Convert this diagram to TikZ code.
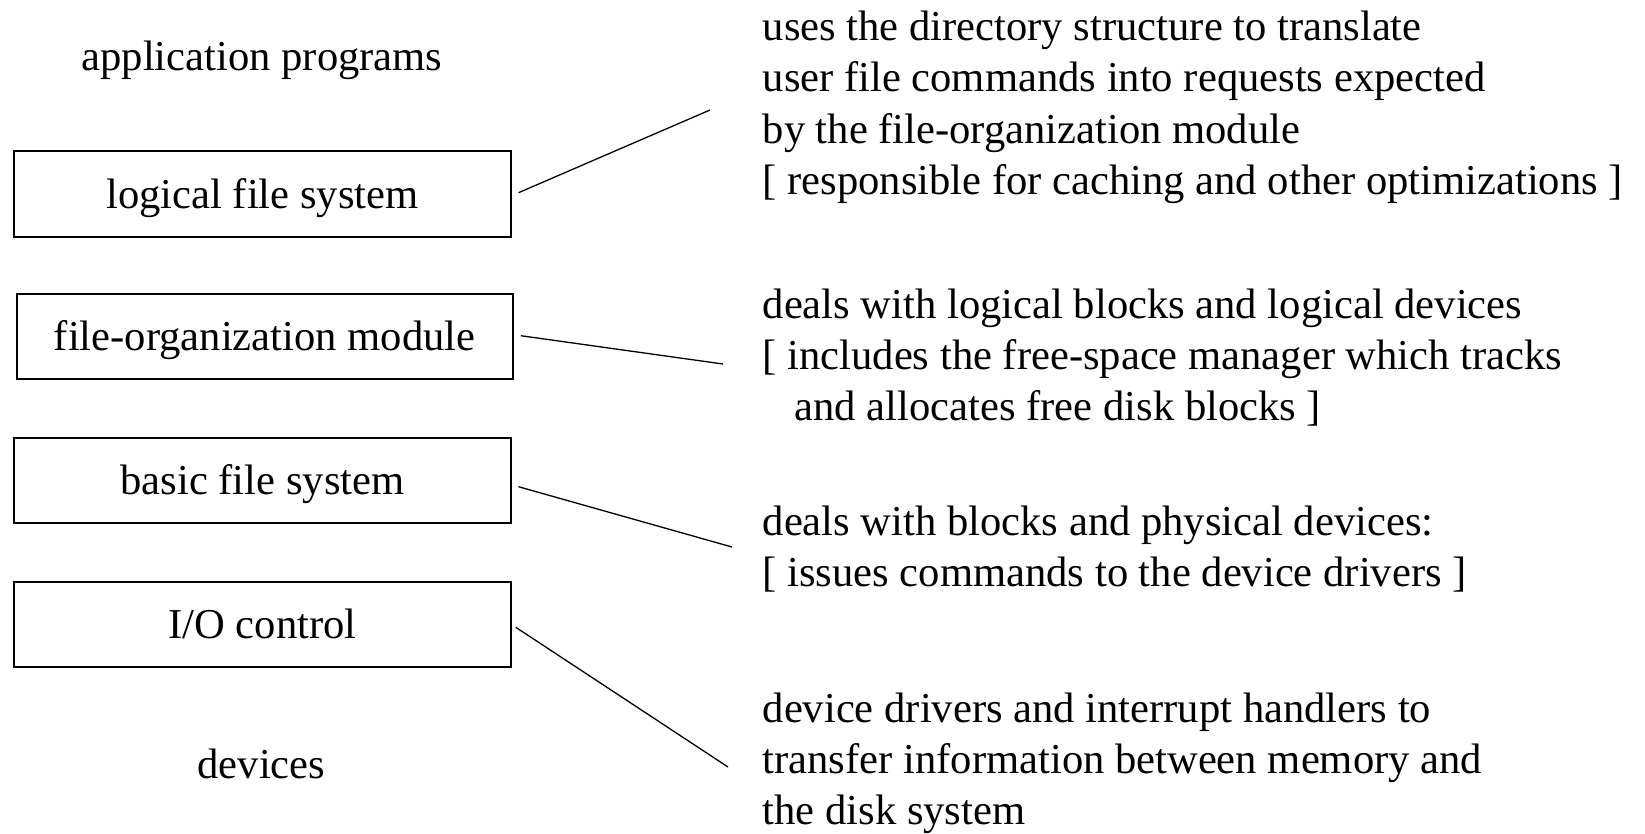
\documentclass[tikz,border=0pt]{standalone}
\usepackage{fontspec}
\setmainfont{Liberation Serif}
\newcommand{\layerfont}{\fontsize{42.6}{51.3}\selectfont}
\tikzset{
  layer/.style={draw, line width=1.6pt, minimum width=497pt, minimum height=86pt,
    inner sep=0pt, text height=28pt, text depth=0pt, font=\layerfont},
  plainlabel/.style={inner sep=0pt, text height=28pt, text depth=0pt, font=\layerfont},
  desc/.style={anchor=north west, align=left, inner sep=0pt, font=\layerfont},
  link/.style={line width=1.3pt}
}
\begin{document}
\begin{tikzpicture}[x=1pt, y=-1pt]
  \useasboundingbox (0,0) rectangle (1645,833);

  % layer stack
  \node[plainlabel] (app) at (262,56.6) {application programs};
  \node[layer] (lfs) at (262.5,194) {logical file system};
  \node[layer, minimum width=496pt, minimum height=85pt] (fom) at (264.7,336.5) {file-organization module};
  \node[layer, minimum height=85pt] (bfs) at (262.5,480.5) {basic file system};
  \node[layer, minimum height=85pt] (ioc) at (262.5,624.5) {I/O control};
  \node[plainlabel] (dev) at (261.5,764) {devices};

  % descriptions of the layers
  \node[desc] (d1) at (762.5,4.5) {\strut uses the directory structure to translate\\
    user file commands into requests expected\\
    by the file-organization module\\
    {[} responsible for caching and other optimizations ]};
  \node[desc] (d2) at (762.5,282.1) {\strut deals with logical blocks and logical devices\\
    {[} includes the free-space manager which tracks\\
    \hspace*{32pt}and allocates free disk blocks ]};
  \node[desc] (d3) at (762.5,499.1) {\strut deals with blocks and physical devices:\\
    {[} issues commands to the device drivers ]};
  \node[desc] (d4) at (762.5,686.1) {\strut device drivers and interrupt handlers to\\
    transfer information between memory and\\
    the disk system};

  % free ends of the leader lines, just left of each description
  \coordinate (e1) at (710,110);
  \coordinate (e2) at (723,364);
  \coordinate (e3) at (732,547);
  \coordinate (e4) at (728,767);

  \draw[link] ([xshift=6.7pt,yshift=1.3pt]lfs.east) -- (e1);
  \draw[link] ([xshift=7.3pt,yshift=0.8pt]fom.east) -- (e2);
  \draw[link] ([xshift=6.7pt,yshift=-6.2pt]bfs.east) -- (e3);
  \draw[link] ([xshift=4pt,yshift=-2.8pt]ioc.east) -- (e4);
\end{tikzpicture}
\end{document}
